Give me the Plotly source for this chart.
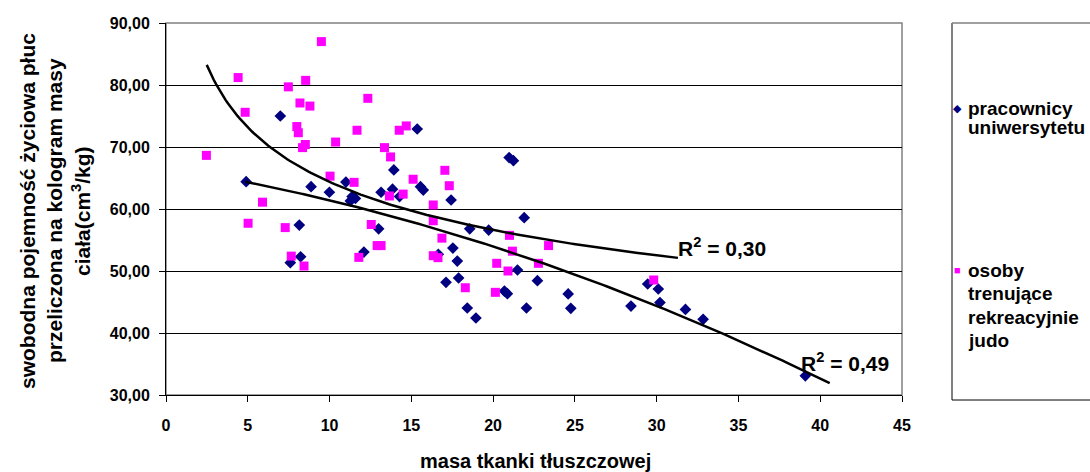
import numpy as np
import plotly.graph_objects as go

# --- data ---
pracownicy_x = [4.90, 6.99, 7.60, 8.15, 8.23, 8.87, 9.99, 11.00, 11.27, 11.38, 11.58, 12.10, 13.00,
                13.15, 13.85, 13.93, 14.28, 15.36, 15.56, 15.73, 16.65, 17.12, 17.43, 17.54, 17.81,
                17.89, 18.42, 18.57, 18.95, 19.73, 20.69, 20.87, 20.98, 21.24, 21.49, 21.90, 22.04,
                22.71, 24.59, 24.75, 28.43, 29.45, 30.10, 30.20, 31.76, 32.84, 39.09]
pracownicy_y = [64.40, 75.00, 51.35, 57.40, 52.30, 63.60, 62.70, 64.35, 61.30, 62.00, 61.70, 53.06, 56.80,
                62.70, 63.20, 66.30, 62.00, 72.90, 63.60, 63.06, 52.70, 48.18, 61.45, 53.70, 51.60,
                48.87, 44.03, 56.80, 42.42, 56.60, 46.77, 46.34, 68.30, 67.80, 50.16, 58.60, 44.03,
                48.44, 46.30, 43.98, 44.35, 47.90, 47.10, 44.90, 43.80, 42.20, 33.10]

judo_x = [2.47, 4.41, 4.84, 5.02, 5.90, 7.29, 7.48, 7.66, 8.00, 8.09, 8.19, 8.35, 8.44, 8.52, 8.54,
          8.80, 9.50, 10.03, 10.37, 11.50, 11.68, 11.79, 12.34, 12.55, 12.91, 13.15, 13.36, 13.66,
          13.73, 14.26, 14.50, 14.69, 15.11, 16.34, 16.34, 16.34, 16.63, 16.87, 17.05, 17.32, 18.30,
          20.14, 20.22, 20.91, 21.00, 21.18, 22.77, 23.39, 29.82]
judo_y = [68.65, 81.20, 75.60, 57.70, 61.10, 57.00, 79.70, 52.40, 73.30, 72.30, 77.10, 69.90, 50.80, 70.40, 80.75,
          76.60, 87.00, 65.30, 70.80, 64.30, 72.70, 52.20, 77.85, 57.50, 54.10, 54.10, 69.90, 62.10,
          68.40, 72.70, 62.40, 73.40, 64.80, 60.65, 58.10, 52.47, 52.15, 55.30, 66.24, 63.76, 47.30,
          46.56, 51.24, 50.00, 55.75, 53.20, 51.24, 54.10, 48.55]

# trendlines (type and coefficients)
judo_trend_power = [98.55, -0.185]            # y = a * x^b
judo_trend_range = [2.49, 31.3]
prac_trend_poly = [-0.010714, -0.4227, 66.70]  # y = a x^2 + b x + c
prac_trend_range = [4.84, 40.58]
r2_labels = ["R<sup>2</sup> = 0,30", "R<sup>2</sup> = 0,49"]
r2_pos = [(31.2, 53.9), (38.7, 35.4)]

x_ticks = [0, 5, 10, 15, 20, 25, 30, 35, 40, 45]
y_ticks = [30, 40, 50, 60, 70, 80, 90]

legend_names = ["pracownicy", "uniwersytetu"]
legend_names2 = ["osoby", "trenujące", "rekreacyjnie", "judo"]

FONT = "Liberation Sans, Arial, sans-serif"


def px2x(p):
    return (p - 166) / 736


def px2y(p):
    return (395 - p) / 372


fig = go.Figure()

fig.add_trace(go.Scatter(x=pracownicy_x, y=pracownicy_y, mode="markers",
                         marker=dict(symbol="diamond", size=9, color="#000080"),
                         name="pracownicy uniwersytetu", showlegend=False))
fig.add_trace(go.Scatter(x=judo_x, y=judo_y, mode="markers",
                         marker=dict(symbol="square", size=9, color="#FF00FF"),
                         name="osoby trenujące rekreacyjnie judo", showlegend=False))

tx = np.linspace(judo_trend_range[0], judo_trend_range[1], 200)
ty = judo_trend_power[0] * tx ** judo_trend_power[1]
fig.add_trace(go.Scatter(x=tx, y=ty, mode="lines", line=dict(color="black", width=2.5),
                         showlegend=False, hoverinfo="skip"))
px_ = np.linspace(prac_trend_range[0], prac_trend_range[1], 200)
py_ = np.polyval(prac_trend_poly, px_)
fig.add_trace(go.Scatter(x=px_, y=py_, mode="lines", line=dict(color="black", width=2.5),
                         showlegend=False, hoverinfo="skip"))

# R^2 labels
for t, (xv, yv) in zip(r2_labels, r2_pos):
    fig.add_annotation(x=xv, y=yv, xref="x", yref="y", text=t, showarrow=False,
                       xanchor="left", yanchor="middle",
                       font=dict(family=FONT, size=21, color="black", weight="bold"))

# plot border (top/right grey)
fig.add_shape(type="rect", xref="paper", yref="paper", x0=0, x1=1, y0=0, y1=1,
              line=dict(color="#808080", width=1.5), layer="below")

# Y axis title (three lines)
ytitle = ["swobodna pojemność życiowa płuc", "przeliczona na kologram masy", "ciała(cm<sup>3</sup>/kg)"]
for t, xp in zip(ytitle, [27, 54, 81]):
    fig.add_annotation(x=px2x(xp), y=px2y(211), xref="paper", yref="paper",
                       text=t, textangle=-90, showarrow=False, xanchor="center", yanchor="middle",
                       font=dict(family=FONT, size=21, color="black", weight="bold"))

# X axis title
fig.add_annotation(x=px2x(535), y=px2y(461), xref="paper", yref="paper",
                   text="masa tkanki tłuszczowej",
                   showarrow=False, xanchor="center", yanchor="middle",
                   font=dict(family=FONT, size=20, color="black", weight="bold"))

# legend box (left, top, bottom edges; right edge lies beyond the window)
fig.add_shape(type="line", xref="paper", yref="paper", x0=px2x(952), x1=px2x(952),
              y0=px2y(400), y1=px2y(23), line=dict(color="black", width=1))
fig.add_shape(type="line", xref="paper", yref="paper", x0=px2x(952), x1=px2x(1090),
              y0=px2y(23), y1=px2y(23), line=dict(color="#808080", width=1.5))
fig.add_shape(type="line", xref="paper", yref="paper", x0=px2x(952), x1=px2x(1090),
              y0=px2y(400), y1=px2y(400), line=dict(color="black", width=1))
fig.add_annotation(x=px2x(958), y=px2y(108), xref="paper", yref="paper", text="◆",
                   showarrow=False, xanchor="center", yanchor="middle", font=dict(size=11, color="#000080"))
fig.add_annotation(x=px2x(958), y=px2y(270), xref="paper", yref="paper", text="■",
                   showarrow=False, xanchor="center", yanchor="middle", font=dict(size=11, color="#FF00FF"))
for t, yp in zip(legend_names, [108, 128]):
    fig.add_annotation(x=px2x(966), y=px2y(yp), xref="paper", yref="paper", text=t,
                       showarrow=False, xanchor="left", yanchor="middle",
                       font=dict(family=FONT, size=19, color="black", weight="bold"))
for t, yp in zip(legend_names2, [270, 293, 317, 340]):
    fig.add_annotation(x=px2x(966), y=px2y(yp), xref="paper", yref="paper", text=t,
                       showarrow=False, xanchor="left", yanchor="middle",
                       font=dict(family=FONT, size=19, color="black", weight="bold"))

fig.update_layout(
    width=1090, height=472,
    margin=dict(l=166, r=188, t=23, b=77),
    paper_bgcolor="white", plot_bgcolor="white",
    separators=", ",
    font=dict(family=FONT, color="black"),
    showlegend=False,
)
fig.update_xaxes(range=[0, 45], tickvals=x_ticks, ticks="outside", ticklen=6, tickcolor="black",
                 showline=True, linecolor="black", linewidth=1, showgrid=False, zeroline=False,
                 tickfont=dict(family=FONT, size=16, color="black", weight="bold"),
                 ticklabelstandoff=10)
fig.update_yaxes(range=[30, 90], tickvals=y_ticks, tickformat=".2f", ticks="outside", ticklen=6,
                 tickcolor="black", showline=True, linecolor="black", linewidth=1,
                 showgrid=True, gridcolor="black", gridwidth=1, zeroline=False,
                 tickfont=dict(family=FONT, size=16, color="black", weight="bold"),
                 ticklabelstandoff=6)

fig.write_html("out.html", config={"displayModeBar": False},
               post_script="document.body.style.margin='0';document.body.style.padding='0';"
                           "document.body.style.overflow='hidden';"
                           "document.documentElement.style.overflow='hidden';")
